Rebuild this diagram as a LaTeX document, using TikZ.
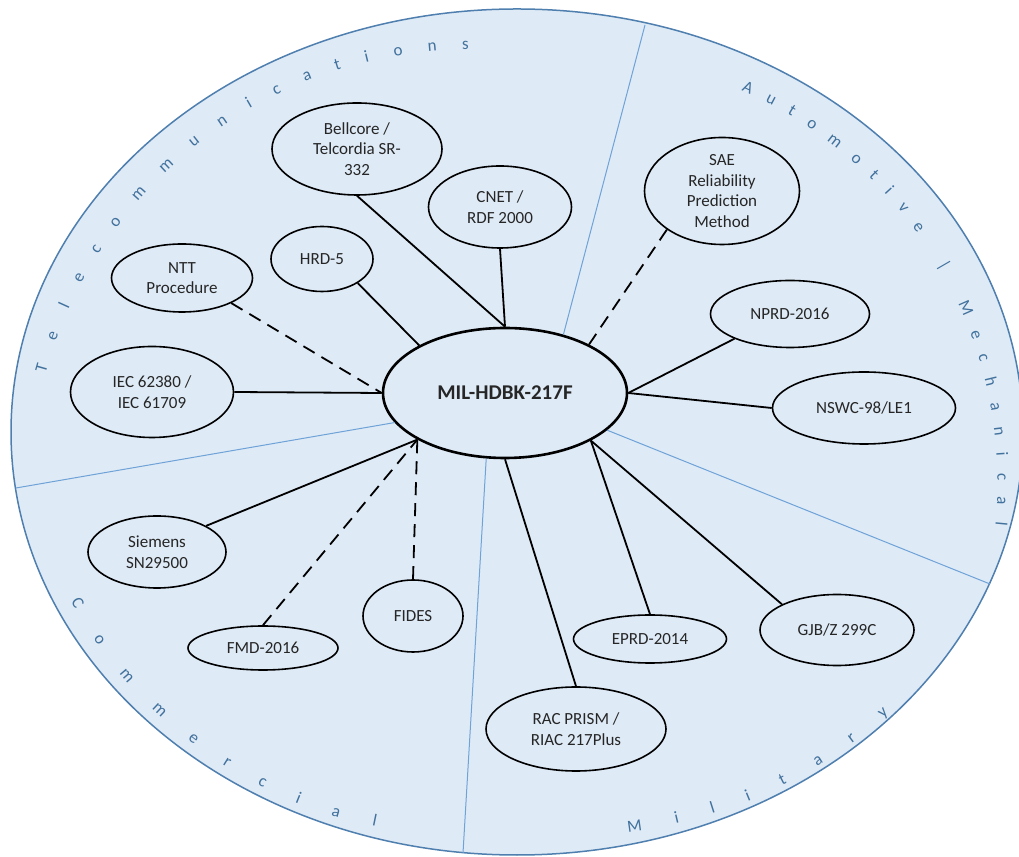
\documentclass[tikz,border=0pt]{standalone}
\usepackage{fontspec}
\setmainfont{Carlito}
\usetikzlibrary{shapes.geometric,decorations.text}
\definecolor{bgfill}{HTML}{DEEAF6}
\definecolor{rim}{HTML}{4F7FAF}
\definecolor{divider}{HTML}{6FA3D8}
\definecolor{lbl}{HTML}{41719C}
\definecolor{ink}{HTML}{262626}
\newcommand{\sectorfont}{\fontsize{17}{20}\selectfont\color{lbl}}
\begin{document}
\begin{tikzpicture}[x=1pt,y=1pt,
  method/.style={ellipse, draw=black, line width=1.6pt, fill=bgfill, inner sep=0pt, align=center,
    font=\fontsize{17}{20.5}\selectfont, text=ink},
  hub/.style={ellipse, draw=black, line width=2.6pt, fill=bgfill, inner sep=0pt,
    font=\fontsize{21}{24}\selectfont\bfseries, text=ink, minimum width=244pt, minimum height=130pt},
  link/.style={line width=1.8pt, draw=black},
  dlink/.style={link, dash pattern=on 13pt off 8pt},
  sectorline/.style={draw=divider, line width=1pt},
  arclabel/.style={decorate, decoration={text along path, text align={fit to path}, text format delimiters={[}{]}}}
]
\useasboundingbox (0,0) rectangle (1019,856);
% outer disc
\path[draw=rim, fill=bgfill, line width=1.5pt] (517,424) ellipse [x radius=506pt, y radius=423pt];

% nodes
\node[hub] (hub) at (505,463) {MIL-HDBK-217F};
\node[method, minimum width=170pt, minimum height=92pt] (bell) at (357,707) {Bellcore /\\Telcordia SR-\\332};
\node[method, minimum width=143pt, minimum height=82pt] (cnet) at (500,649) {CNET /\\RDF 2000};
\node[method, minimum width=102pt, minimum height=65pt] (hrd) at (322,597) {HRD-5};
\node[method, minimum width=141pt, minimum height=68pt] (ntt) at (182,578) {NTT\\Procedure};
\node[method, minimum width=163pt, minimum height=91pt] (iec) at (152,464) {IEC 62380 /\\IEC 61709};
\node[method, minimum width=155pt, minimum height=107pt, inner ysep=-6pt] (sae) at (722,665) {SAE\\Reliability\\Prediction\\Method};
\node[method, minimum width=159pt, minimum height=67pt] (nprd) at (790,542) {NPRD-2016};
\node[method, minimum width=183pt, minimum height=72pt] (nswc) at (864,448) {NSWC-98/LE1};
\node[method, minimum width=138pt, minimum height=72pt] (siem) at (157,304) {Siemens\\SN29500};
\node[method, minimum width=150pt, minimum height=44pt] (fmd) at (263,208) {FMD-2016};
\node[method, minimum width=100pt, minimum height=72pt] (fides) at (413,240) {FIDES};
\node[method, minimum width=153pt, minimum height=48pt] (eprd) at (650,217) {EPRD-2014};
\node[method, minimum width=154pt, minimum height=71pt] (gjb) at (837,226) {GJB/Z 299C};
\node[method, minimum width=180pt, minimum height=84pt] (rac) at (576,127) {RAC PRISM /\\RIAC 217Plus};

% sector dividers
\coordinate (e1) at (645,831);
\coordinate (e2) at (16,368);
\coordinate (e3) at (463,3);
\coordinate (e4) at (990,272);
\draw[sectorline] (hub.45) -- (e1);
\draw[sectorline] (hub.195) -- (e2);
\draw[sectorline] (hub.254) -- (e3);
\draw[sectorline] (hub.-20) -- (e4);

% connectors
\draw[link] (bell.south) -- (hub.north);
\draw[link] (cnet.south) -- (hub.north);
\draw[link] (hrd.-34) -- (hub.151);
\draw[dlink] (ntt.-27) -- (hub.west);
\draw[link] (iec.east) -- (hub.west);
\draw[dlink] (sae.215) -- (hub.30);
\draw[link] (nprd.204) -- (hub.east);
\draw[link] (nswc.west) -- (hub.east);
\draw[link] (siem.28) -- (hub.208);
\draw[dlink] (fmd.north) -- (hub.208);
\draw[dlink] (fides.north) -- (hub.208);
\draw[link] (rac.north) -- (hub.south);
\draw[link] (eprd.north) -- (hub.-29);
\draw[link] (gjb.155) -- (hub.-29);

% sector labels
\path[arclabel, decoration={text={[\sectorfont]Telecommunications}}, shift={(471,365)}]
  (164.5:441.5) arc[start angle=164.5, end angle=90.3, radius=441.5];
\path[arclabel, decoration={text={[\sectorfont]Automotive | Mechanical}}, shift={(568,373)}]
  (66.2:429.5) arc[start angle=66.2, end angle=-5.6, radius=429.5];
\path[arclabel, decoration={text={[\sectorfont]Military}}, shift={(568,500)}]
  (-82.8:480) arc[start angle=-82.8, end angle=-48.1, radius=480];
\path[arclabel, decoration={text={[\sectorfont]Commercial}}, shift={(464,468)}]
  (-151.5:447.4) arc[start angle=-151.5, end angle=-101.4, radius=447.4];
\end{tikzpicture}
\end{document}
